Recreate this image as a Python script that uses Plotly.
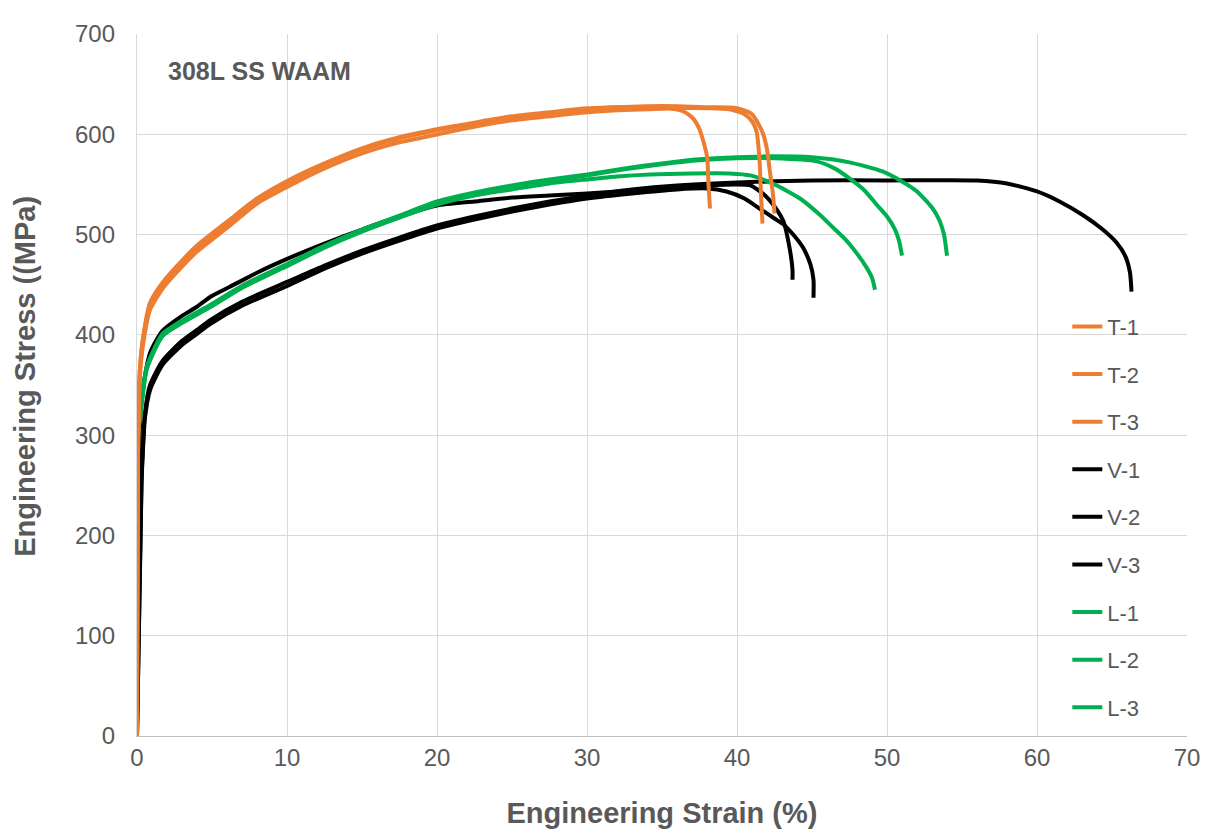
import plotly.graph_objects as go

# ---------------- data ----------------
series_names = ["T-1", "T-2", "T-3", "V-1", "V-2", "V-3", "L-1", "L-2", "L-3"]

t1_strain = [0, 0.05, 0.1, 0.2, 0.4, 0.87, 1.7, 3, 4, 6.2, 8, 10.2, 12.5, 15, 17.5, 20.7, 23, 25, 27.5, 30, 32, 34, 35.5, 36.4, 37, 37.5, 38.0, 38.1, 38.2]
t1_stress = [0, 250, 320, 366, 395, 430, 450, 472, 487, 513, 535, 553, 570, 585, 596, 606, 612, 617, 621, 625, 627, 627, 626, 623, 617, 605, 578, 550, 526]

t2_strain = [0, 0.05, 0.1, 0.2, 0.4, 0.87, 1.7, 3, 4, 6.2, 8, 10.2, 12.5, 15, 17.5, 20.7, 23, 25, 27.5, 30, 32, 34, 36, 38, 39.5, 40.5, 41.0, 41.3, 41.5, 41.6, 41.7]
t2_stress = [0, 245, 315, 360, 390, 425, 446, 468, 483, 509, 531, 549, 566, 581, 592, 602, 609, 614, 618, 622, 624, 625, 626, 626, 625, 620, 613, 603, 575, 540, 511]

t3_strain = [0, 0.05, 0.1, 0.2, 0.4, 0.87, 1.7, 3, 4, 6.2, 8, 10.2, 12.5, 15, 17.5, 20.7, 23, 25, 27.5, 30, 32, 34, 36, 38, 40, 41, 41.7, 42.0, 42.2, 42.4, 42.5]
t3_stress = [0, 252, 322, 368, 397, 432, 452, 474, 489, 515, 536, 555, 571, 586, 597, 607, 613, 618, 622, 626, 627, 628, 628, 627, 626, 620, 602, 585, 562, 540, 521]

v1_strain = [0, 0.1, 0.33, 0.87, 1.7, 3, 4.0, 4.9, 6.2, 8, 10.2, 12.5, 15, 17.5, 20, 22.5, 25, 27.5, 30, 33, 36, 38, 40, 40.9, 41.8, 42.5, 43.1, 43.5, 43.7, 43.7]
v1_stress = [0, 260, 340, 382, 404, 419, 428, 438, 448, 462, 477, 491, 505, 518, 529, 533, 537, 539, 541, 544, 547, 549, 550, 549, 540, 528, 513, 487, 465, 455]

v2_strain = [0, 0.3, 0.4, 0.53, 0.87, 1.7, 3, 4.0, 4.9, 7, 10.2, 12.5, 15, 17.5, 20, 22.5, 25, 27.5, 30, 33, 36, 38, 39.3, 40.5, 41.5, 42.5, 43.1, 43.8, 44.4, 44.9, 45.1, 45.1]
v2_stress = [0, 250, 286, 317, 345, 370, 390, 401, 411, 429, 450, 466, 481, 494, 506, 515, 523, 530, 536, 541, 545, 546, 543, 536, 526, 516, 510, 499, 487, 470, 455, 437]

v3_strain = [0, 0.3, 0.4, 0.53, 0.87, 1.7, 3, 4.0, 4.9, 7, 10.2, 12.5, 15, 17.5, 20, 22.5, 25, 27.5, 30, 33, 36, 40, 45, 50, 56, 58, 60, 61.5, 63.1, 64.3, 65.3, 65.9, 66.2, 66.3]
v3_stress = [0, 255, 290, 322, 350, 374, 394, 405, 415, 433, 454, 469, 484, 497, 509, 518, 526, 533, 539, 545, 549, 552, 554, 554, 554, 551, 543, 533, 519, 506, 492, 478, 462, 443]

l1_strain = [0, 0.07, 0.2, 0.65, 1.7, 3, 4.9, 7, 10.2, 12.5, 15, 17.5, 20, 22.5, 25, 27.5, 30, 32, 34.2, 37, 39.5, 40.9, 42.5, 44.2, 45.5, 46.4, 47.3, 48.0, 48.6, 49.0, 49.2]
l1_stress = [0, 300, 317, 366, 399, 412, 428, 447, 470, 487, 503, 517, 530, 539, 545, 551, 555, 558, 560, 561, 561, 559, 550, 536, 520, 507, 494, 481, 468, 457, 445]

l2_strain = [0, 0.07, 0.2, 0.65, 1.7, 3, 4.9, 7, 10.2, 12.5, 15, 17.5, 20, 22.5, 25, 27.5, 30, 32.5, 35, 37.5, 40, 42.5, 45.3, 46.5, 47.5, 48.5, 49.3, 50.0, 50.5, 50.8, 51.0]
l2_stress = [0, 300, 317, 366, 399, 412, 428, 447, 471, 488, 504, 518, 532, 541, 548, 554, 559, 565, 570, 574, 576, 576, 573, 566, 556, 544, 530, 518, 506, 494, 479]

l3_strain = [0, 0.07, 0.2, 0.65, 1.7, 3, 4.9, 7, 10.2, 12.5, 15, 17.5, 20, 22.5, 25, 27.5, 30, 32.5, 35, 37.5, 40, 42.5, 45, 47.5, 49.7, 51, 52, 53, 53.5, 53.8, 54.0]
l3_stress = [0, 302, 319, 368, 401, 414, 430, 449, 472, 489, 505, 519, 533, 542, 549, 555, 560, 566, 571, 575, 577, 578, 577, 572, 563, 553, 543, 527, 514, 500, 479]

x_ticks = [0, 10, 20, 30, 40, 50, 60, 70]
y_ticks = [0, 100, 200, 300, 400, 500, 600, 700]

# ---------------- figure ----------------
ORANGE = "#ED7D31"
BLACK = "#000000"
GREEN = "#00B050"
GREY = "#595959"

curves = {
    "T-1": (t1_strain, t1_stress, ORANGE),
    "T-2": (t2_strain, t2_stress, ORANGE),
    "T-3": (t3_strain, t3_stress, ORANGE),
    "V-1": (v1_strain, v1_stress, BLACK),
    "V-2": (v2_strain, v2_stress, BLACK),
    "V-3": (v3_strain, v3_stress, BLACK),
    "L-1": (l1_strain, l1_stress, GREEN),
    "L-2": (l2_strain, l2_stress, GREEN),
    "L-3": (l3_strain, l3_stress, GREEN),
}

draw_order = ["V-1", "V-2", "V-3", "L-1", "L-2", "L-3", "T-1", "T-2", "T-3"]

fig = go.Figure()
for name in draw_order:
    xs, ys, col = curves[name]
    fig.add_trace(go.Scatter(
        x=xs, y=ys, mode="lines", name=name,
        line=dict(color=col, width=4, shape="spline", smoothing=0.6),
        legendgroup=name,
        legendrank=series_names.index(name) + 1,
    ))

fig.add_annotation(
    x=1.9, y=663, xref="x", yref="y", text="<b>308L SS WAAM</b>",
    showarrow=False, xanchor="left", yanchor="middle",
    font=dict(family="Liberation Sans, Arial, sans-serif", size=25, color=GREY),
)

# y-axis title placed as a rotated annotation to match the reference position
fig.add_annotation(
    x=-0.1067, y=0.513, xref="paper", yref="paper",
    text="<b>Engineering Stress ((MPa)</b>", textangle=-90,
    showarrow=False, xanchor="center", yanchor="middle",
    font=dict(family="Liberation Sans, Arial, sans-serif", size=29, color=GREY),
)

fig.update_layout(
    width=1212, height=831,
    margin=dict(l=129, r=33, t=15, b=103),
    paper_bgcolor="white", plot_bgcolor="white",
    font=dict(family="Liberation Sans, Arial, sans-serif", color=GREY),
    showlegend=True,
    legend=dict(
        x=0.886, y=0.613, xanchor="left", yanchor="top",
        bgcolor="rgba(0,0,0,0)",
        font=dict(size=22, color=GREY),
        itemwidth=30,
        tracegroupgap=16,
        traceorder="grouped",
    ),
)

fig.update_xaxes(
    range=[0, 70], tickvals=x_ticks, ticktext=[str(v) for v in x_ticks],
    showgrid=True, gridcolor="#D9D9D9", gridwidth=1.3,
    zeroline=False, showline=True, linecolor="#BFBFBF", linewidth=1.3,
    ticks="", tickfont=dict(size=24, color=GREY),
    title=dict(text="<b>Engineering Strain (%)</b>", font=dict(size=29, color=GREY), standoff=32),
)
fig.update_yaxes(
    range=[0, 700], tickvals=y_ticks, ticktext=[str(v) for v in y_ticks],
    showgrid=True, gridcolor="#D9D9D9", gridwidth=1.3,
    zeroline=False, showline=True, linecolor="#D9D9D9", linewidth=1.3,
    ticks="", tickfont=dict(size=24, color=GREY), ticklabelstandoff=16,
)

fig.write_html("out.html")
